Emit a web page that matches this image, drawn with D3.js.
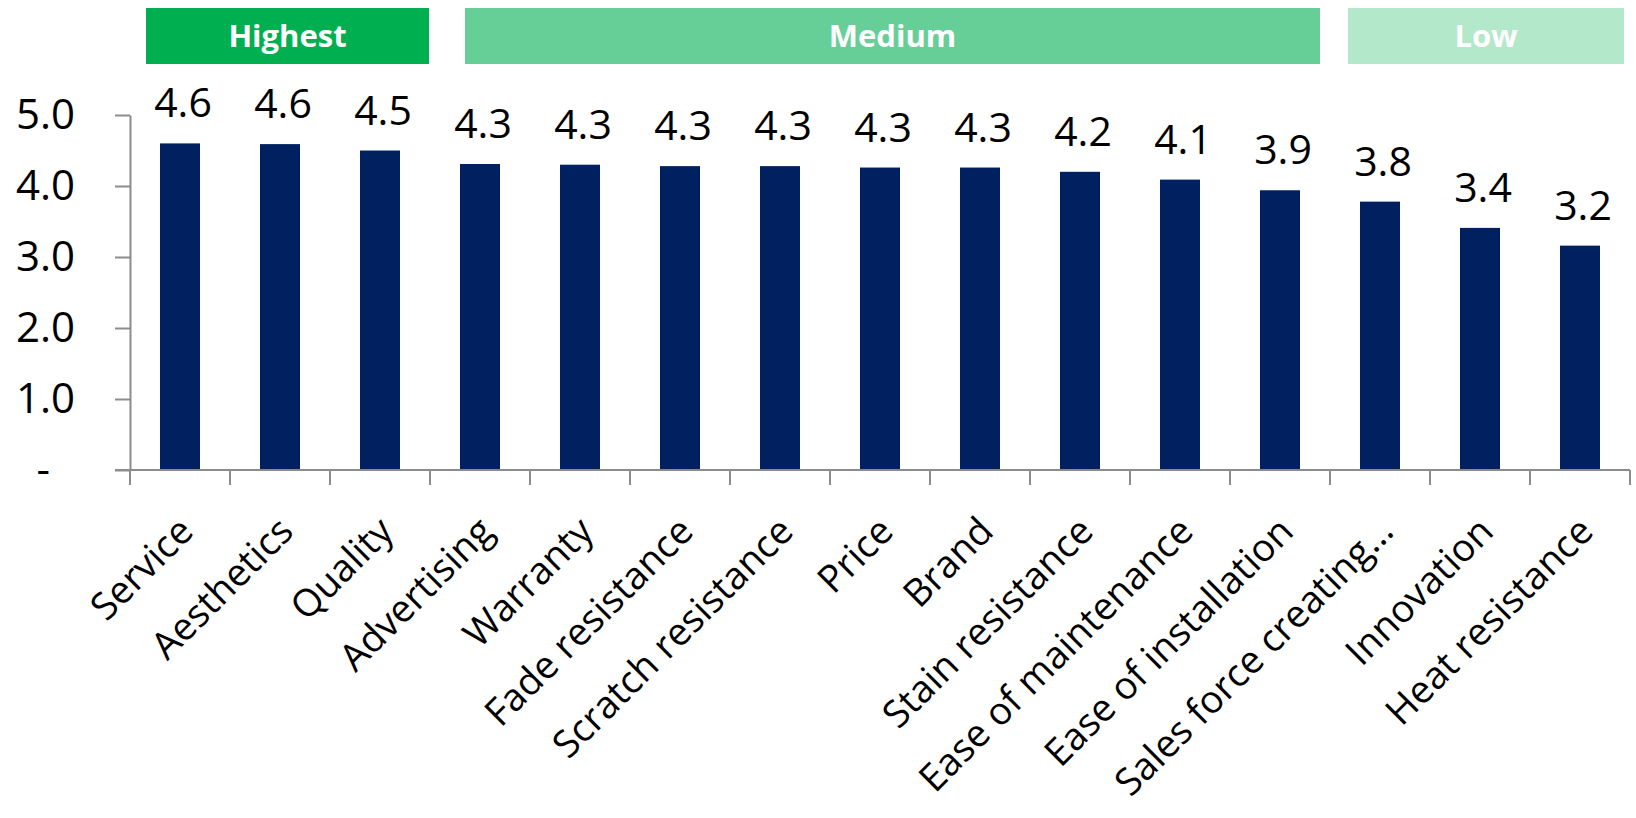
<!DOCTYPE html>
<html>
<head>
<meta charset="utf-8">
<script src="https://cdn.jsdelivr.net/npm/d3@7"></script>
<style>
  body { margin: 0; background: #fff; }
  svg text { font-family: "Open Sans", "Noto Sans", sans-serif; }
  .axis path, .axis line { stroke: #8c8c8c; stroke-width: 2; }
</style>
</head>
<body>
<svg id="chart" width="1636" height="818"></svg>
<script>
// Attribute ratings
const categories = ["Service", "Aesthetics", "Quality", "Advertising", "Warranty",
    "Fade resistance", "Scratch resistance", "Price", "Brand", "Stain resistance",
    "Ease of maintenance", "Ease of installation", "Sales force creating\u2026",
    "Innovation", "Heat resistance"];
const values = [4.60, 4.59, 4.50, 4.31, 4.30, 4.28, 4.28, 4.26, 4.26, 4.20,
    4.09, 3.94, 3.78, 3.41, 3.16];
const yTicks = [0, 1, 2, 3, 4, 5];

// Importance tiers shown as banners above the bars
const tiers = ["Highest", "Medium", "Low"];
const tierFirst = ["Service", "Advertising", "Sales force creating\u2026"];
const tierLast = ["Quality", "Ease of installation", "Heat resistance"];

const svg = d3.select("#chart");
const margin = {top: 115, right: 6, bottom: 348, left: 130};
const width = 1636, height = 818;
const baseY = height - margin.bottom;

const x = d3.scaleBand()
    .domain(categories)
    .range([margin.left, width - margin.right])
    .paddingInner(0.6)
    .paddingOuter(0.3);

const y = d3.scaleLinear()
    .domain([0, 5])
    .range([baseY, baseY - 5 * 71]);

const tierColor = d3.scaleOrdinal()
    .domain(tiers)
    .range(["#00b050", "#66cf97", "#b3e8ca"]);

// banners
const step = x.step();
const insets = [[16, 1], [35, 10], [18, 6]];
tiers.forEach((t, i) => {
    const x0 = x(tierFirst[i]) - step * 0.3 + insets[i][0];
    const x1 = x(tierLast[i]) + x.bandwidth() + step * 0.3 - insets[i][1];
    svg.append("rect")
        .attr("x", x0).attr("y", 8)
        .attr("width", x1 - x0).attr("height", 56)
        .attr("fill", tierColor(t));
    svg.append("text")
        .attr("x", (x0 + x1) / 2)
        .attr("y", 47)
        .attr("text-anchor", "middle")
        .attr("fill", "#fff")
        .attr("font-size", "31px")
        .attr("font-weight", "bold")
        .text(t);
});

// bars
svg.selectAll("rect.bar")
    .data(values)
    .enter()
    .append("rect")
    .attr("class", "bar")
    .attr("x", (d, i) => x(categories[i]))
    .attr("y", d => y(d))
    .attr("width", x.bandwidth())
    .attr("height", d => baseY - y(d))
    .attr("fill", "#002060");

// value labels
svg.selectAll("text.val")
    .data(values)
    .enter()
    .append("text")
    .attr("class", "val")
    .attr("x", (d, i) => x(categories[i]) + x.bandwidth() / 2 + 3)
    .attr("y", d => y(d) - 26)
    .attr("text-anchor", "middle")
    .attr("font-size", "41px")
    .attr("fill", "#000")
    .text(d => d3.format(".1f")(d));

// y axis
const yAxis = svg.append("g")
    .attr("class", "axis y-axis")
    .attr("transform", `translate(${margin.left}, 0)`)
    .call(d3.axisLeft(y).tickValues(yTicks).tickSize(15).tickSizeOuter(0)
        .tickFormat(d => d === 0 ? "-" : d3.format(".1f")(d)));
yAxis.selectAll("text")
    .attr("font-size", "42px")
    .attr("fill", "#000")
    .attr("x", -55);
yAxis.selectAll(".tick").filter(d => d === 0).select("text").attr("x", -80);

// x axis: ticks on category boundaries
const xAxisG = svg.append("g")
    .attr("class", "axis x-axis")
    .attr("transform", `translate(0, ${baseY})`);
xAxisG.append("line")
    .attr("x1", margin.left - 15).attr("x2", width - margin.right)
    .attr("y1", 0).attr("y2", 0);
const bounds = categories.map(c => x(c) - step * 0.3);
bounds.push(width - margin.right);
xAxisG.selectAll("line.tk")
    .data(bounds)
    .enter()
    .append("line")
    .attr("class", "tk")
    .attr("x1", d => d).attr("x2", d => d)
    .attr("y1", 0).attr("y2", 15);

// rotated category labels
svg.selectAll("text.cat")
    .data(categories)
    .enter()
    .append("text")
    .attr("class", "cat")
    .attr("text-anchor", "end")
    .attr("font-size", "38px")
    .attr("fill", "#000")
    .attr("transform", d => `translate(${x(d) + x.bandwidth() / 2 + 6}, ${baseY + 54}) rotate(-45)`)
    .attr("dy", "0.35em")
    .text(d => d);
</script>
</body>
</html>
